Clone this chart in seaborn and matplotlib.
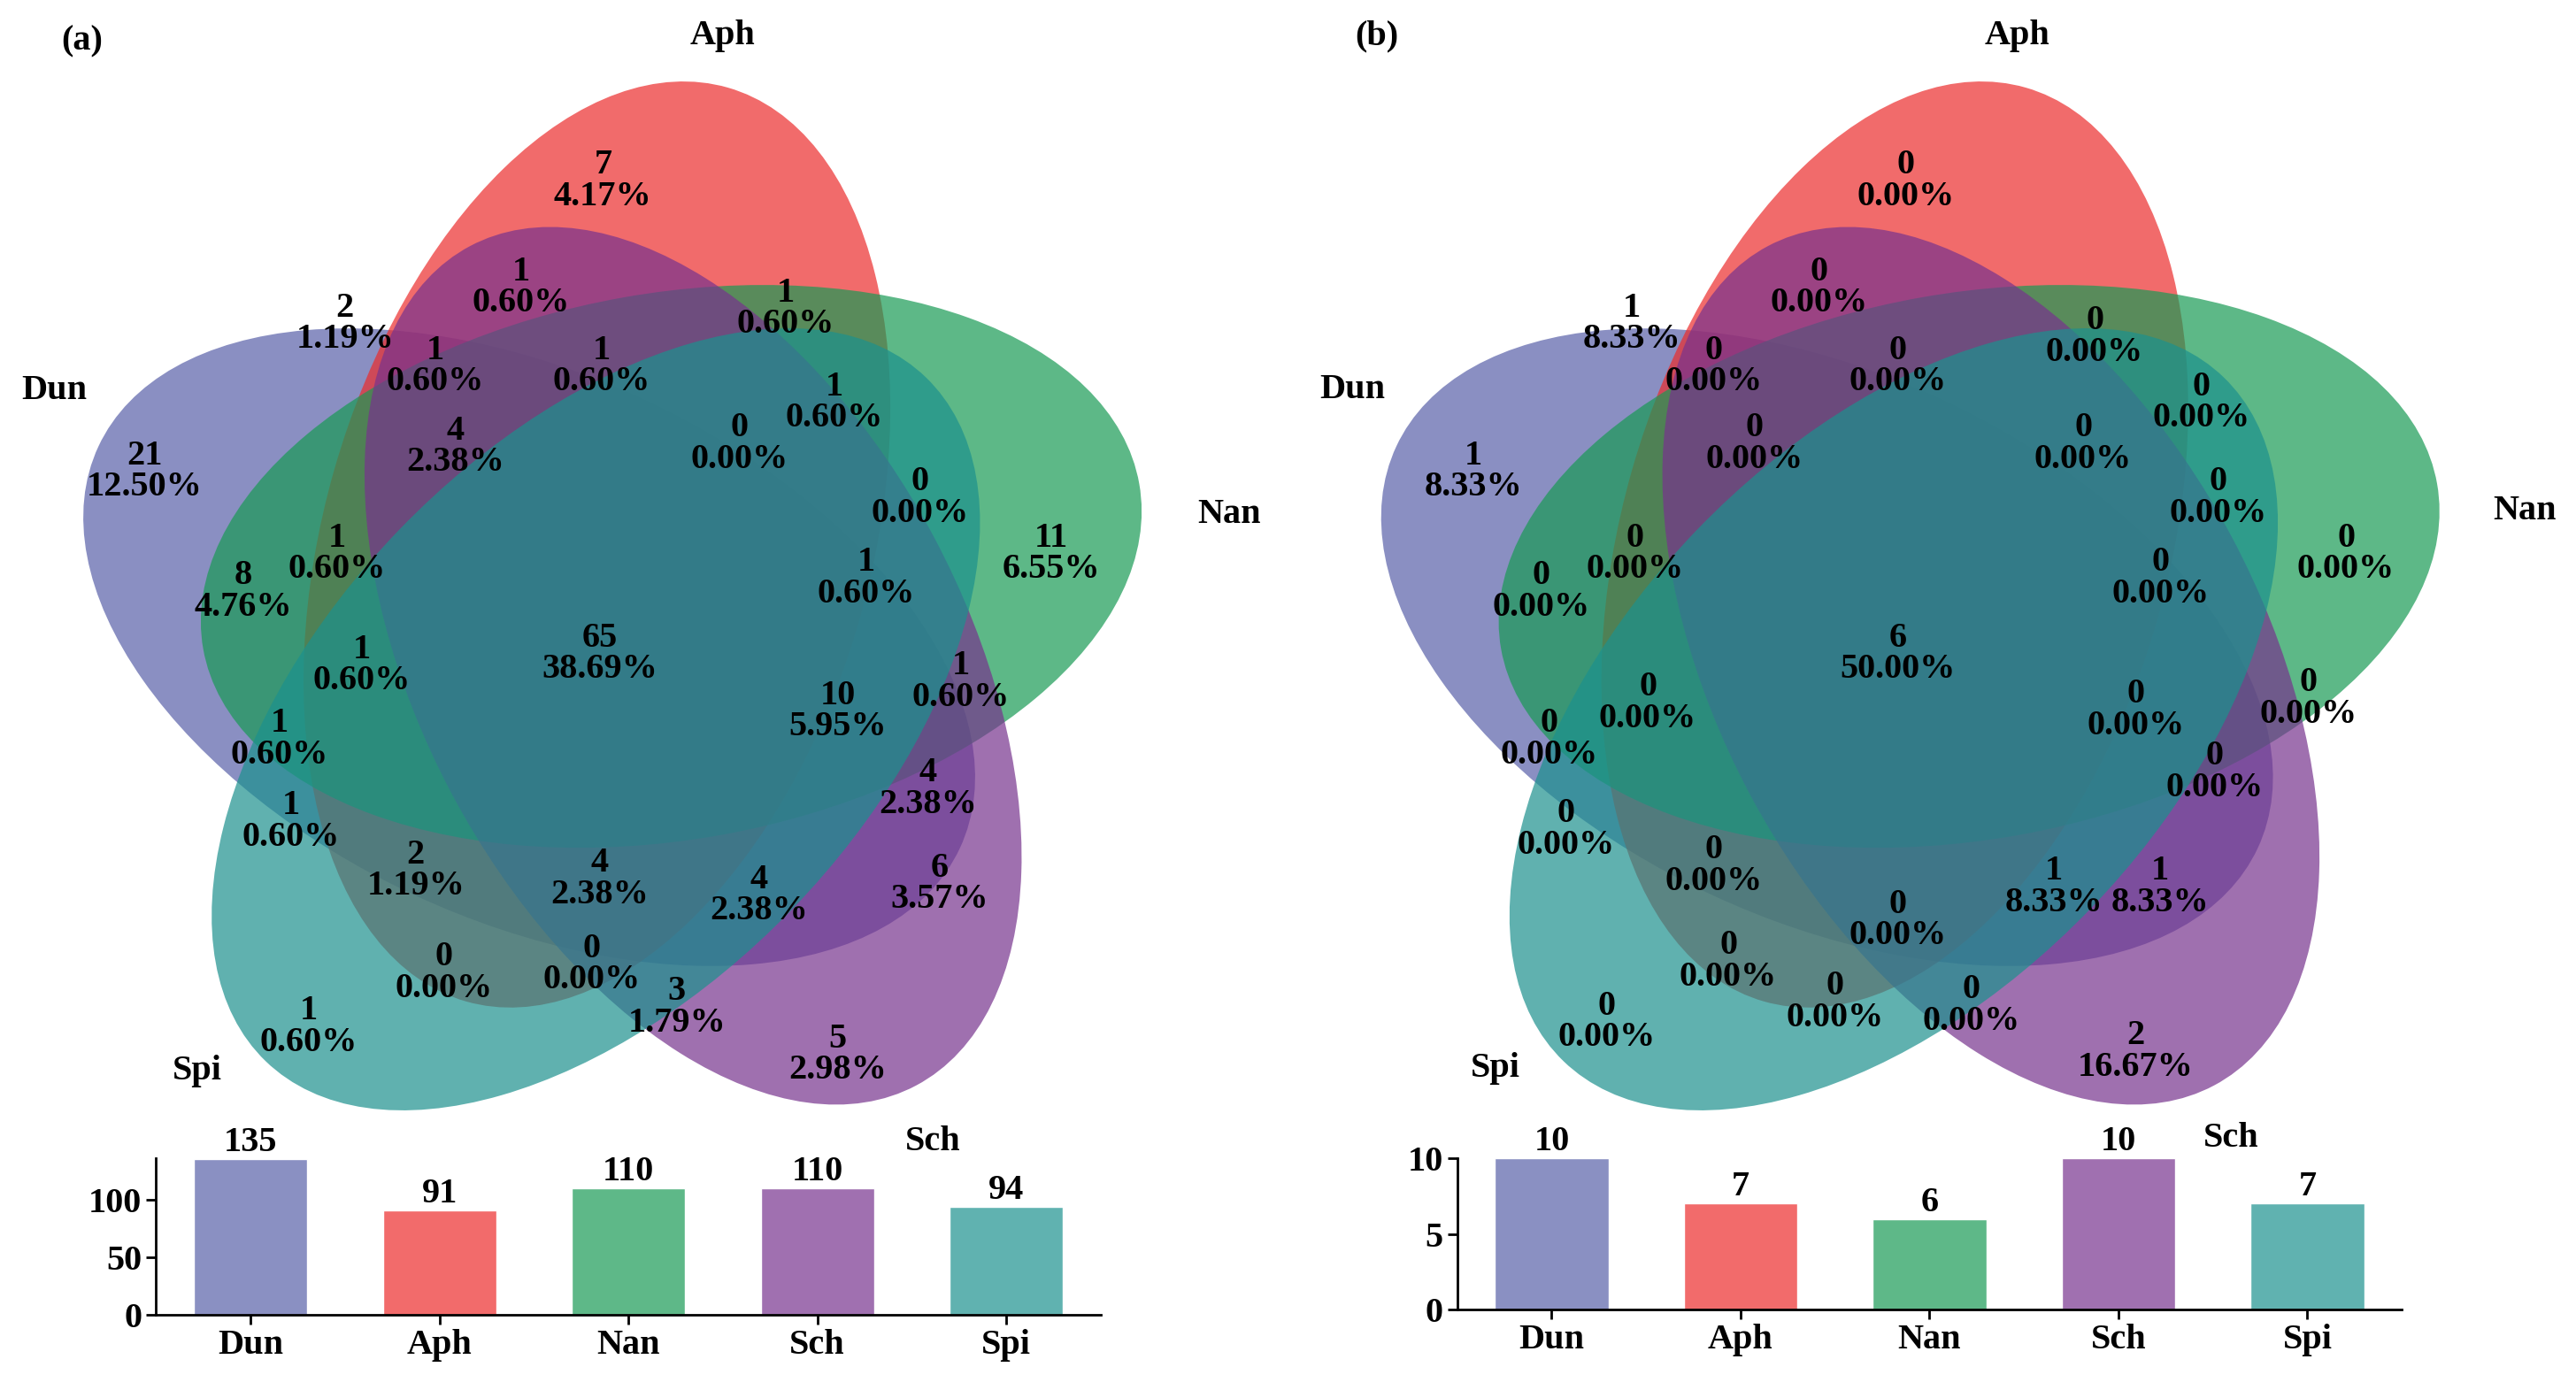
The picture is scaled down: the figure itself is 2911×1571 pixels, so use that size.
import numpy as np
import pandas as pd
import matplotlib
matplotlib.use("Agg")
import matplotlib.pyplot as plt
from matplotlib.patches import Ellipse
import seaborn as sns

# ---------------- data ----------------
sets = ["Dun", "Aph", "Nan", "Sch", "Spi"]
bar_colors = ["#8A90C2", "#F26B6B", "#5EB888", "#A070B0", "#60B2B0"]
fill_colors = ["#5860A8", "#EC2C2C", "#199A55", "#77338E", "#1C918E"]

sizes_a = [135, 91, 110, 110, 94]
sizes_b = [10, 7, 6, 10, 7]

counts_a = [7, 1, 2, 1, 1, 1, 1, 4, 0, 21, 0, 11, 1, 8, 1, 65,
            1, 10, 1, 1, 4, 1, 2, 4, 4, 6, 0, 0, 3, 5, 1]
counts_b = [0, 0, 1, 0, 0, 0, 0, 0, 0, 1, 0, 0, 0, 0, 0, 6,
            0, 0, 0, 0, 0, 0, 0, 0, 1, 1, 0, 0, 0, 2, 0]

# label positions (reference pixel grid 1568 x 846)
pos_a = [(367, 110), (317, 175), (210, 197), (265, 223), (366, 223), (478, 188),
         (508, 245), (277, 272), (450, 270), (88, 287), (560, 303), (640, 337),
         (205, 337), (148, 360), (527, 352), (365, 398), (220, 405), (510, 433),
         (585, 415), (170, 450), (565, 480), (177, 500), (253, 530), (365, 535),
         (462, 545), (572, 538), (270, 592), (360, 587), (412, 613), (510, 642),
         (188, 625)]
pos_b = [(1160, 110), (1107, 175), (993, 197), (1043, 223), (1155, 223), (1275, 205),
         (1340, 245), (1068, 270), (1268, 270), (897, 287), (1350, 303), (1428, 337),
         (995, 337), (938, 360), (1315, 352), (1155, 398), (1003, 428), (1300, 432),
         (1405, 425), (943, 450), (1348, 470), (953, 505), (1043, 527), (1155, 560),
         (1250, 540), (1315, 540), (1052, 585), (1117, 610), (1200, 612), (1300, 640),
         (978, 622)]

set_label_a = {"Aph": (440, 22), "Dun": (33, 238), "Nan": (748, 313),
               "Spi": (120, 652), "Sch": (568, 695)}
set_label_b = {"Aph": (1228, 22), "Dun": (823, 237), "Nan": (1537, 311),
               "Spi": (910, 650), "Sch": (1358, 693)}

# ellipse geometry (unit square), order Dun, Aph, Nan, Sch, Spi
ell_centers = [(0.428, 0.449), (0.49, 0.543), (0.558, 0.523), (0.578, 0.432), (0.489, 0.383)]
ell_angles = [155, 74, 10, 118, 46]

sns.set_theme(style="ticks")
plt.rcParams["font.family"] = ["Liberation Serif", "DejaVu Serif"]
plt.rcParams["font.weight"] = "bold"
plt.rcParams["text.color"] = "black"
plt.rcParams["xtick.color"] = "black"
plt.rcParams["ytick.color"] = "black"
plt.rcParams["axes.edgecolor"] = "black"

W, H = 1568, 846
fig = plt.figure(figsize=(29.11, 15.71), dpi=100)
ov = fig.add_axes([0, 0, 1, 1])
ov.set_xlim(0, W)
ov.set_ylim(H, 0)
ov.axis("off")

S = 665
FS = 29


def draw_venn(cx, cy, counts, positions, labels, tag, tagpos):
    for (u, v), a, c in zip(ell_centers, ell_angles, fill_colors):
        px = cx + (u - 0.5) * S
        py = cy - (v - 0.5) * S
        ov.add_patch(Ellipse((px, py), 0.87 * S, 0.5 * S, angle=-a,
                             facecolor=c, alpha=0.7, edgecolor="none"))
    total = sum(counts)
    for n, (x, y) in zip(counts, positions):
        ov.text(x, y, f"{n}\n{n / total * 100:.2f}%", ha="center", va="center",
                fontsize=FS, fontweight="bold", linespacing=0.95, zorder=5)
    for name, (x, y) in labels.items():
        ov.text(x, y, name, ha="center", va="center", fontsize=FS, fontweight="bold")
    ov.text(tagpos[0], tagpos[1], tag, ha="center", va="center", fontsize=FS, fontweight="bold")


draw_venn(370, 360, counts_a, pos_a, set_label_a, "(a)", (50, 25))
draw_venn(1160, 360, counts_b, pos_b, set_label_b, "(b)", (838, 22))


def draw_bars(rect, sizes, ymax, ticks):
    ax = fig.add_axes(rect)
    df = pd.DataFrame({"set": sets, "n": sizes})
    sns.barplot(data=df, x="set", y="n", hue="set", palette=bar_colors,
                legend=False, width=0.6, ax=ax, saturation=1)
    for cont in ax.containers:
        ax.bar_label(cont, fontsize=FS, fontweight="bold", padding=0)
    ax.set_ylim(0, ymax)
    ax.set_xlim(-0.5, 4.5)
    ax.set_yticks(ticks)
    ax.set_xlabel("")
    ax.set_ylabel("")
    ax.tick_params(axis="both", labelsize=FS, width=2, length=8)
    for lab in ax.get_xticklabels() + ax.get_yticklabels():
        lab.set_fontweight("bold")
    sns.despine(ax=ax)
    ax.spines["left"].set_linewidth(2)
    ax.spines["bottom"].set_linewidth(2)
    ax.patch.set_alpha(0)
    return ax


draw_bars([95 / W, 46 / H, 575 / W, 95 / H], sizes_a, 136, [0, 50, 100])
draw_bars([887 / W, 49 / H, 575 / W, 92 / H], sizes_b, 10, [0, 5, 10])

fig.savefig("out.png", dpi=100)
